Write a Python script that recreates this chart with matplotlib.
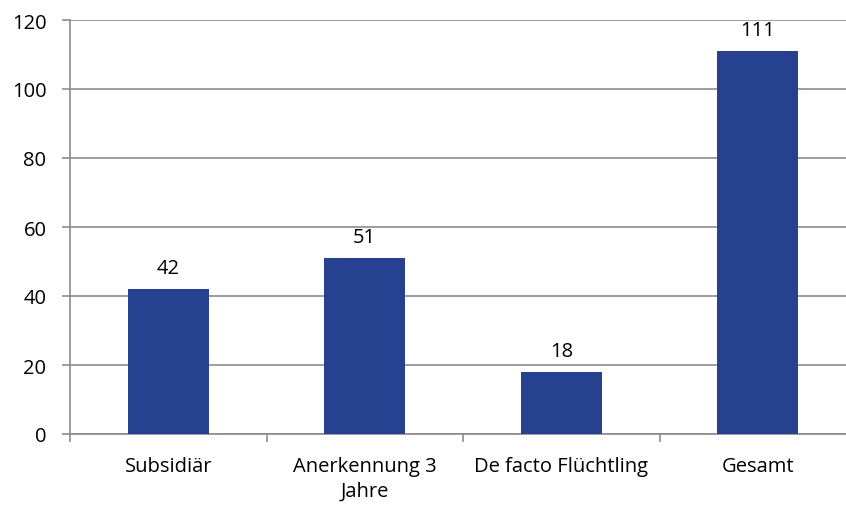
import matplotlib.pyplot as plt
import numpy as np

categories = ["Subsidiär", "Anerkennung 3\nJahre", "De facto Flüchtling", "Gesamt"]
values = [42, 51, 18, 111]
y_ticks = [0, 20, 40, 60, 80, 100, 120]

BAR_COLOR = "#26418f"
GRID_COLOR = "#8c8c8c"
FS = 14.5

plt.rcParams["font.family"] = ["Open Sans", "DejaVu Sans"]

W, H = 846, 506
fig = plt.figure(figsize=(W / 100, H / 100), dpi=100)
ax = fig.add_axes([70 / W, 1 - 435 / H, 786 / W, 414 / H])

x = np.arange(len(categories))
bars = ax.bar(x, values, width=0.41, color=BAR_COLOR, zorder=3)
for rect, v in zip(bars, values):
    ax.annotate(str(v), (rect.get_x() + rect.get_width() / 2, v),
                xytext=(0, 8), textcoords="offset points",
                ha="center", va="bottom", fontsize=FS, color="#000000")

ax.set_xlim(-0.5, len(categories) - 0.5)
ax.set_ylim(0, 120)
ax.set_yticks(y_ticks)
ax.yaxis.grid(True, color=GRID_COLOR, linewidth=1.2, zorder=0)

ax.set_xticks(np.arange(len(categories) + 1) - 0.5)
ax.set_xticklabels([])
ax.set_xticks(x, minor=True)
ax.set_xticklabels(categories, minor=True, fontsize=FS, linespacing=1.3, va="top")
ax.tick_params(axis="x", which="minor", length=0, pad=16)
ax.tick_params(axis="x", which="major", length=6, color=GRID_COLOR, width=1.2, direction="out")
ax.tick_params(axis="y", length=6, color=GRID_COLOR, width=1.2, labelsize=FS, pad=11)

for side in ["top", "right"]:
    ax.spines[side].set_visible(False)
for side in ["left", "bottom"]:
    ax.spines[side].set_color(GRID_COLOR)
    ax.spines[side].set_linewidth(1.2)

fig.savefig("out.png", dpi=100)
